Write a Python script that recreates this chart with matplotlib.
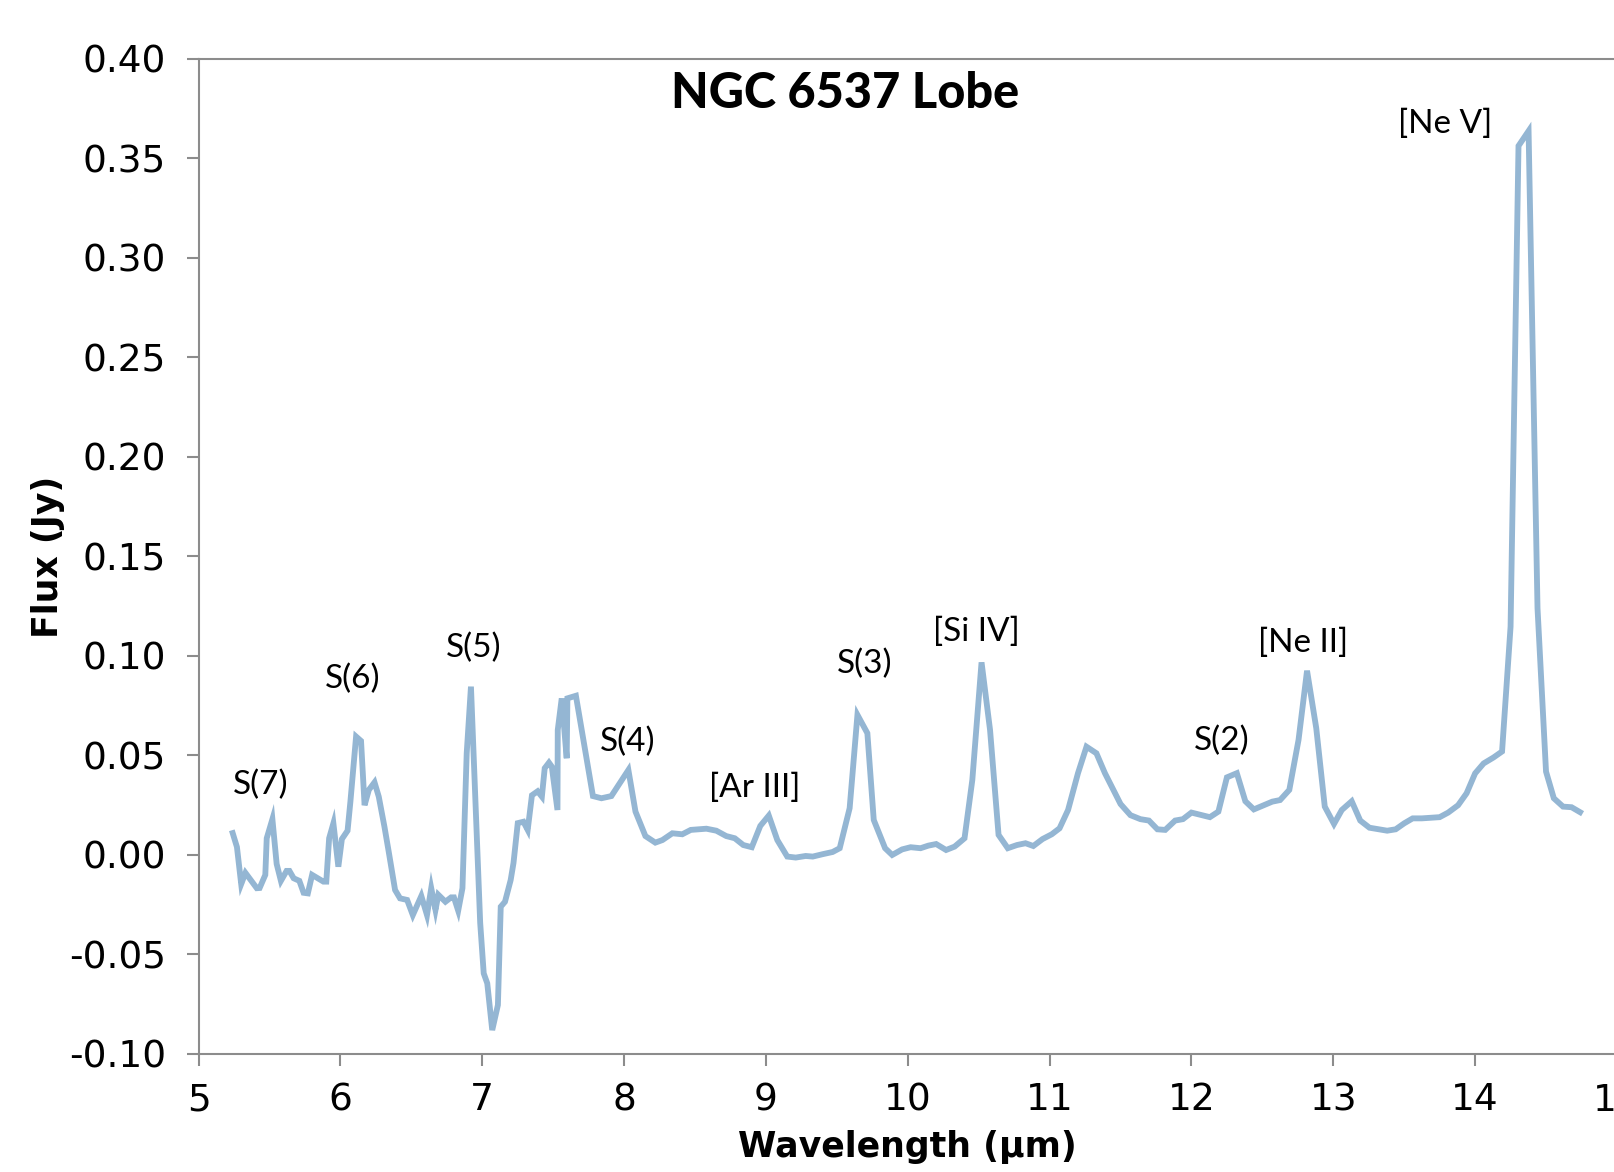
import numpy as np
import matplotlib
matplotlib.use("Agg")
import matplotlib.pyplot as plt

# spectrum (wavelength in um, flux in Jy)
wave = [5.24, 5.27, 5.30, 5.33, 5.41, 5.43, 5.47, 5.48, 5.52, 5.55,
        5.58, 5.62, 5.64, 5.67, 5.71, 5.74, 5.77, 5.80, 5.88, 5.90,
        5.92, 5.95, 5.985, 6.01, 6.05, 6.07, 6.11, 6.145, 6.17, 6.20,
        6.24, 6.27, 6.31, 6.34, 6.385, 6.42, 6.47, 6.51, 6.57, 6.61,
        6.64, 6.67, 6.69, 6.74, 6.78, 6.80, 6.83, 6.86, 6.89, 6.92,
        6.985, 7.01, 7.035, 7.07, 7.11, 7.13, 7.16, 7.20, 7.22, 7.25,
        7.29, 7.32, 7.35, 7.39, 7.42, 7.44, 7.47, 7.49, 7.53, 7.532,
        7.56, 7.595, 7.60, 7.66, 7.78, 7.84, 7.91, 8.03, 8.08, 8.15,
        8.22, 8.27, 8.34, 8.41, 8.47, 8.58, 8.65, 8.72, 8.78, 8.84,
        8.90, 8.96, 9.02, 9.08, 9.15, 9.21, 9.28, 9.33, 9.40, 9.47,
        9.52, 9.59, 9.645, 9.715, 9.76, 9.84, 9.89, 9.96, 10.02, 10.09,
        10.145, 10.20, 10.27, 10.33, 10.40, 10.455, 10.52, 10.58, 10.64, 10.705,
        10.77, 10.83, 10.885, 10.95, 11.015, 11.07, 11.13, 11.20, 11.26, 11.33,
        11.39, 11.50, 11.57, 11.64, 11.70, 11.76, 11.815, 11.885, 11.94, 12.00,
        12.13, 12.19, 12.25, 12.32, 12.38, 12.44, 12.51, 12.57, 12.625, 12.69,
        12.755, 12.815, 12.88, 12.94, 13.005, 13.06, 13.13, 13.19, 13.255, 13.32,
        13.38, 13.44, 13.50, 13.56, 13.625, 13.75, 13.81, 13.88, 13.94, 14.00,
        14.06, 14.13, 14.19, 14.25, 14.306, 14.377, 14.44, 14.50, 14.555, 14.62,
        14.68, 14.74]
flux = [0.011, 0.004, -0.0146, -0.009, -0.0167, -0.0166, -0.010, 0.0084, 0.018, -0.0045,
        -0.013, -0.008, -0.008, -0.0117, -0.013, -0.019, -0.0193, -0.010, -0.0134, -0.0134,
        0.0084, 0.0159, -0.0059, 0.008, 0.0122, 0.0268, 0.0595, 0.0573, 0.025, 0.0327,
        0.0365, 0.0293, 0.0142, 0.0017, -0.0176, -0.0218, -0.0226, -0.0302, -0.0206, -0.0302,
        -0.0167, -0.0276, -0.020, -0.0235, -0.0213, -0.0213, -0.028, -0.0167, 0.0511, 0.0846,
        -0.034, -0.0595, -0.0645, -0.088, -0.0754, -0.026, -0.0235, -0.0126, -0.004, 0.016,
        0.0167, 0.0126, 0.030, 0.032, 0.0293, 0.0436, 0.0464, 0.0444, 0.0226, 0.0628,
        0.0787, 0.0486, 0.0787, 0.080, 0.0296, 0.0285, 0.0296, 0.0427, 0.0218, 0.0095,
        0.0062, 0.0075, 0.0109, 0.0104, 0.0126, 0.0132, 0.0122, 0.0095, 0.0084, 0.005,
        0.0039, 0.0146, 0.0198, 0.0075, -0.0008, -0.0013, -0.0005, -0.0008, 0.0004, 0.0015,
        0.0034, 0.0235, 0.0704, 0.0612, 0.0176, 0.0034, 0.0, 0.0028, 0.0039, 0.0034,
        0.0047, 0.0055, 0.0025, 0.0042, 0.0084, 0.0377, 0.0968, 0.0628, 0.0101, 0.0034,
        0.005, 0.0059, 0.0045, 0.008, 0.0104, 0.0134, 0.0226, 0.0411, 0.0544, 0.0511,
        0.0411, 0.0256, 0.020, 0.018, 0.0173, 0.0129, 0.0126, 0.0173, 0.018, 0.0213,
        0.019, 0.0218, 0.039, 0.0411, 0.027, 0.0229, 0.025, 0.0268, 0.0276, 0.0327,
        0.0578, 0.0926, 0.0637, 0.0243, 0.0156, 0.0226, 0.027, 0.0173, 0.0137, 0.0129,
        0.0122, 0.0129, 0.0159, 0.0184, 0.0184, 0.019, 0.0213, 0.025, 0.031, 0.041,
        0.046, 0.049, 0.052, 0.1147, 0.3563, 0.3638, 0.124, 0.0419, 0.0285, 0.0243,
        0.024, 0.0215]

# line labels and where they sit (data coords)
line_names = ['S(7)', 'S(6)', 'S(5)', 'S(4)', '[Ar III]', 'S(3)',
              '[Si IV]', 'S(2)', '[Ne II]', '[Ne V]']
label_x = [5.44, 6.083, 6.937, 8.025, 8.923, 9.697, 10.487, 12.21, 12.79, 13.79]
label_y = [0.0352, 0.0884, 0.1039, 0.0568, 0.0335, 0.096, 0.112, 0.0574, 0.1068, 0.3675]

xticks = np.arange(5, 16, 1)
yticks = np.arange(-0.10, 0.401, 0.05)

GRAY = '#8c8c8c'
BLUE = '#94b6d3'

fig = plt.figure(figsize=(16.15, 11.72), dpi=100)
# the original image is cut off at the right, so the axes run past the edge
ax = fig.add_axes([0.1230, 0.1007, 0.8782, 0.8490])

ax.plot(wave, flux, color=BLUE, lw=4.2, solid_joinstyle='miter')

for name, lx, ly in zip(line_names, label_x, label_y):
    ax.text(lx, ly, name, ha='center', va='center', fontsize=24,
            family=['Lato', 'DejaVu Sans'], color='black')

ax.set_xlim(5, 15)
ax.set_ylim(-0.10, 0.40)
ax.set_xticks(xticks)
ax.set_yticks(yticks)
ax.set_yticklabels(['{:.2f}'.format(v) for v in yticks])

for s in ax.spines.values():
    s.set_color(GRAY)
    s.set_linewidth(1.5)

ax.tick_params(axis='both', colors=GRAY, labelcolor='black', length=8.5,
               width=1.5, labelsize=27)
ax.tick_params(axis='y', pad=15)
ax.tick_params(axis='x', pad=12)

ax.set_xlabel('Wavelength (μm)', fontsize=25, fontweight='bold', va='baseline')
ax.xaxis.set_label_coords(0.5, -0.104)
ax.set_ylabel('Flux (Jy)', fontsize=25, fontweight='bold', va='center')
ax.yaxis.set_label_coords(-0.106, 0.5)

fig.text(0.5232, 0.9078, 'NGC 6537 Lobe', ha='center', va='baseline',
         fontsize=35, fontweight='black', family=['Lato', 'DejaVu Sans'])

fig.savefig('out.png', dpi=100)
